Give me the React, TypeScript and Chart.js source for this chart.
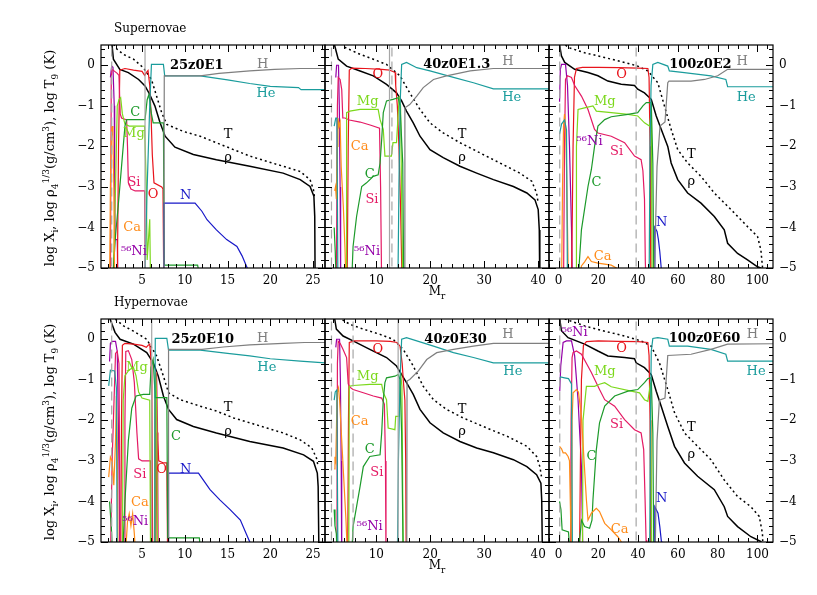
import React, { useEffect, useRef } from "react";
import { Chart, registerables } from "chart.js";
Chart.register(...registerables);

type Pt = [number, number];
type Lab = [string, number, number, string];

// ---------------- tick values ----------------
const Y_MAJOR = [-5, -4, -3, -2, -1, 0];
const X_MAJOR_25 = [5, 10, 15, 20, 25];
const X_MAJOR_40 = [10, 20, 30, 40];
const X_MAJOR_100 = [0, 20, 40, 60, 80, 100];

// ---------------- 25z0E1 (supernova) ----------------
const SN25_RHO: Pt[] = [[1.4,0.6],[1.48,0.52],[1.65,0.15],[2.4,-0.1],[3.4,-0.18],[4.6,-0.35],[5.35,-0.51],[5.9,-0.72],[6.5,-1.0],[7.1,-1.41],[7.7,-1.75],[8.85,-2.02],[11,-2.2],[13.7,-2.33],[17.6,-2.49],[21.5,-2.66],[23.5,-2.82],[24.65,-2.99],[25.1,-3.23],[25.2,-3.73],[25.25,-5.5]];
const SN25_T: Pt[] = [[1.7,0.52],[1.84,0.44],[2.8,0.27],[4.0,0.15],[5.15,-0.06],[6.1,-0.35],[6.7,-0.76],[7.3,-1.17],[7.9,-1.46],[9.8,-1.63],[11.8,-1.75],[13.7,-1.91],[15.7,-2.08],[17.6,-2.24],[19.6,-2.37],[21.5,-2.49],[23.5,-2.62],[24.65,-2.82],[25.05,-3.07],[25.2,-3.3]];
const SN25_H: Pt[] = [[7.55,-5.5],[7.6,-0.26],[11.8,-0.26],[14,-0.2],[17.6,-0.14],[20.5,-0.1],[23.5,-0.08],[26.4,-0.08]];
const SN25_HE: Pt[] = [[5.3,-5.5],[5.6,-3],[5.9,-1],[6.1,0.02],[7.5,0.02],[7.65,-0.26],[11.8,-0.26],[15,-0.36],[17.6,-0.45],[20,-0.52],[23.3,-0.55],[23.6,-0.6],[26.4,-0.6]];
const SN25_O: Pt[] = [[2.1,-5.5],[2.25,-2],[2.4,-0.12],[3,-0.08],[4,-0.12],[5,-0.15],[5.3,-0.25],[5.5,-0.18],[5.7,-0.13],[5.9,-0.5],[6.05,-1.2],[6.2,-2.2],[6.4,-2.9],[7.3,-3.0],[7.45,-3.05],[7.55,-5.5]];
const SN25_SI: Pt[] = [[1.3,-5.5],[1.4,-0.3],[1.5,-0.1],[1.8,-0.15],[2.1,-0.2],[2.3,-0.25],[2.45,-1.2],[2.6,-1.3],[3.2,-1.35],[3.3,-2.0],[3.4,-2.9],[3.7,-3.05],[4.2,-3.1],[5.3,-3.1],[5.38,-5.5]];
const SN25_C: Pt[] = [[1.5,-5.5],[1.9,-4.2],[2.2,-3.5],[2.6,-2.5],[3.0,-1.5],[3.2,-1.34],[5.35,-1.34],[5.6,-0.85],[5.8,-0.72],[6.1,-1.2],[6.3,-1.42],[7.5,-1.42],[7.6,-4.93],[11.5,-4.93],[12,-5.5]];
const SN25_MG: Pt[] = [[1.6,-5.5],[1.9,-3],[2.1,-1.0],[2.3,-0.85],[2.5,-0.8],[2.7,-1.2],[3.0,-1.45],[3.5,-1.5],[5.3,-1.5],[5.5,-3],[5.6,-4.8],[5.9,-3.8],[6.0,-5.5]];
const SN25_CA: Pt[] = [[1.2,-5.5],[1.3,-3],[1.4,-1.8],[1.5,-1.5],[1.6,-1.8],[1.7,-3],[1.8,-5.5]];
const SN25_NI: Pt[] = [[1.3,-0.3],[1.45,-0.02],[1.6,-0.05],[1.75,-1],[1.8,-3],[1.85,-4.3],[2.1,-4.3],[2.2,-5.5]];
const SN25_N: Pt[] = [[7.5,-5.5],[7.55,-3.4],[11.2,-3.4],[12.0,-3.6],[12.6,-3.81],[13.7,-4.06],[14.9,-4.3],[16.1,-4.47],[16.7,-4.7],[17.3,-5.0],[17.5,-5.5]];
const SN25_SOLID = [5.35];
const SN25_DASHED = [1.45];
const SN25_LABELS: Lab[] = [["25z0E1",11.4,0.0,"title"],["H",19.1,0.02,"H"],["He",19.5,-0.69,"He"],["T",15.05,-1.71,"T"],["ρ",15.05,-2.28,"rho"],["C",4.2,-1.16,"C"],["Mg",4.05,-1.68,"Mg"],["Si",4.05,-2.9,"Si"],["O",6.3,-3.19,"O"],["N",10.1,-3.22,"N"],["Ca",3.83,-4.01,"Ca"],["⁵⁶Ni",4.05,-4.6,"Ni"]];

// ---------------- 40z0E1.3 (supernova) ----------------
const SN40_RHO: Pt[] = [[2.2,0.6],[2.3,0.48],[2.95,0.15],[4.5,-0.02],[7.0,-0.14],[9.45,-0.26],[11.9,-0.47],[13.75,-0.68],[14.7,-0.88],[15.6,-1.13],[16.85,-1.42],[18.1,-1.75],[19.95,-2.08],[22.4,-2.28],[25.5,-2.49],[28.6,-2.66],[31.7,-2.82],[35.4,-2.99],[37.9,-3.15],[39.4,-3.32],[40.0,-3.56],[40.2,-4.06],[40.3,-5.5]];
const SN40_T: Pt[] = [[3.6,0.55],[4.2,0.44],[7.0,0.27],[9.45,0.15],[11.9,0.02],[14.4,-0.26],[16.2,-0.68],[18.1,-1.09],[19.95,-1.42],[22.4,-1.67],[25.5,-1.91],[29.2,-2.16],[32.9,-2.41],[36.6,-2.66],[38.8,-2.86],[39.7,-3.15],[40.0,-3.4]];
const SN40_H: Pt[] = [[15.25,-5.5],[15.3,-1.05],[16.2,-0.97],[17.5,-0.76],[18.7,-0.55],[20.6,-0.35],[23.0,-0.26],[27.4,-0.14],[31.7,-0.08],[42,-0.08]];
const SN40_HE: Pt[] = [[2.2,-1.5],[2.5,-1.3],[2.7,-1.3],[2.9,-5.5],[14.0,-5.5],[14.2,-3],[14.4,-1],[14.7,0.02],[15.6,0.07],[17.5,-0.06],[19.95,-0.14],[24.3,-0.3],[28.0,-0.43],[31.7,-0.58],[42,-0.58]];
const SN40_O: Pt[] = [[4.6,-5.5],[4.8,-2],[5.0,-0.12],[5.5,-0.07],[8,-0.08],[11,-0.1],[12.5,-0.12],[13.5,-0.18],[13.6,-0.5],[13.9,-1.0],[14.2,-2],[14.5,-3.5],[14.8,-5.5]];
const SN40_SI: Pt[] = [[2.6,-5.5],[2.8,-1],[2.95,-0.3],[3.3,-0.35],[3.6,-0.6],[3.8,-1.3],[4.2,-1.3],[5,-1.35],[7,-1.4],[9,-1.48],[10.6,-1.55],[10.8,-3],[11.0,-5.5]];
const SN40_C: Pt[] = [[2.2,-4.0],[2.4,-4.6],[2.6,-5.5],[5.4,-5.5],[5.7,-4.47],[6.35,-3.73],[7.3,-2.99],[8.2,-2.9],[9.45,-2.74],[10.35,-2.7],[10.7,-2.41],[11.0,-1.83],[11.3,-1.17],[11.9,-0.88],[13.1,-0.84],[14.05,-0.8],[14.4,-1.0],[14.9,-2.41],[15.1,-5.5]];
const SN40_MG: Pt[] = [[4.4,-5.5],[4.5,-1.17],[5.1,-1.13],[7.0,-1.09],[10.35,-1.09],[10.7,-1.34],[11.3,-1.58],[11.6,-2.24],[12.8,-2.24],[13.1,-1.91],[13.75,-1.91],[14.25,-0.76],[14.5,-1.0],[14.9,-5.5]];
const SN40_CA: Pt[] = [[2.3,-3.1],[2.45,-3.0],[2.6,-3.3],[2.75,-2],[2.9,-1.3],[3.1,-1.5],[3.3,-1.4],[3.5,-2.5],[3.9,-3.5],[4.2,-4.5],[4.4,-5.5]];
const SN40_NI: Pt[] = [[2.5,-0.3],[2.65,0.0],[3.0,0.0],[3.15,-1],[3.3,-3],[3.4,-5.5]];
const SN40_SOLID = [12.45];
const SN40_DASHED = [1.7, 12.9];
const SN40_LABELS: Lab[] = [["40z0E1.3",24.9,0.02,"title"],["H",34.4,0.1,"H"],["He",35.1,-0.79,"He"],["O",10.3,-0.22,"O"],["Mg",8.4,-0.89,"Mg"],["Ca",6.9,-2.0,"Ca"],["C",8.8,-2.7,"C"],["Si",9.2,-3.32,"Si"],["T",25.9,-1.71,"T"],["ρ",25.9,-2.28,"rho"],["⁵⁶Ni",8.3,-4.6,"Ni"]];

// ---------------- 100z0E2 (supernova) ----------------
const SN100_RHO: Pt[] = [[0.5,0.6],[0.6,0.48],[1.45,0.23],[3.1,0.07],[8.1,-0.1],[14.8,-0.18],[19.8,-0.26],[24.8,-0.39],[31.5,-0.47],[38.2,-0.5],[39.8,-0.59],[43.2,-0.68],[46.6,-0.84],[49.1,-1.25],[51.6,-1.58],[54.9,-2.0],[56.6,-2.41],[59.9,-2.82],[64.9,-3.15],[71.6,-3.4],[78.3,-3.73],[83.3,-4.06],[85.0,-4.39],[90.0,-4.64],[95.0,-4.8],[100.0,-4.97],[101.7,-5.0],[102,-5.5]];
const SN100_T: Pt[] = [[3.5,0.5],[4.8,0.44],[13.1,0.31],[23.2,0.19],[33.2,0.07],[39.8,-0.02],[44.9,-0.14],[49.9,-0.43],[53.2,-1.0],[56.6,-1.58],[59.9,-2.08],[64.9,-2.41],[71.6,-2.74],[78.3,-3.15],[86.7,-3.56],[95.0,-3.98],[100.0,-4.22],[101.7,-4.55],[102.5,-4.97],[102.7,-5.5]];
const SN100_H: Pt[] = [[48,-5.5],[49.5,-2.5],[51,-1.5],[53.5,-1.4],[54.9,-0.43],[55.5,-0.39],[66.6,-0.39],[73.4,-0.35],[80,-0.26],[85,-0.1],[108,-0.1]];
const SN100_HE: Pt[] = [[0.5,-1.7],[1.5,-1.45],[3,-1.35],[4,-1.6],[4.5,-5.5],[45.5,-5.5],[46,-2],[46.5,-0.5],[47.4,0.02],[49.9,0.07],[54.9,-0.02],[55.7,-0.14],[63.2,-0.18],[76.6,-0.26],[84.1,-0.35],[85.0,-0.53],[108,-0.53]];
const SN100_O: Pt[] = [[6.5,-5.5],[7.3,-2],[8.0,-0.3],[9.0,-0.08],[12,-0.05],[20,-0.05],[30,-0.06],[40,-0.07],[44.9,-0.08],[45.5,-0.3],[46.0,-2],[46.4,-5.5]];
const SN100_SI: Pt[] = [[2.5,-5.5],[3.0,-2],[3.5,-0.35],[4.5,-0.26],[6.5,-0.3],[8.1,-0.5],[11.5,-0.76],[14.8,-1.09],[18.1,-1.58],[19.8,-1.67],[26.5,-1.75],[33.2,-1.91],[38.2,-2.24],[41.5,-2.33],[42.4,-2.6],[43.2,-3.3],[43.6,-4.8],[44.0,-5.5]];
const SN100_C: Pt[] = [[9.6,-5.5],[11.5,-4.06],[14.8,-2.99],[16.5,-2.57],[18.1,-2.0],[19.8,-1.5],[23.2,-1.34],[26.5,-1.27],[34.9,-1.21],[39.8,-1.17],[42.4,-1.0],[44.1,-0.92],[46.6,-0.92],[47.4,-2.41],[47.9,-5.5]];
const SN100_MG: Pt[] = [[8.8,-5.5],[9.0,-2],[9.8,-1.09],[13.1,-1.05],[17.3,-1.0],[19.0,-1.13],[26.5,-1.17],[34.9,-1.21],[39.8,-1.25],[43.2,-1.42],[45.7,-1.5],[46.6,-1.17],[47.1,-5.5]];
const SN100_CA: Pt[] = [[1.5,-5.5],[2.0,-3],[2.5,-1.5],[3.0,-1.2],[3.5,-1.5],[4.0,-2.5],[4.5,-4],[5.0,-5.5],[10,-5.5],[11.5,-4.95],[13.1,-4.85],[14.8,-4.72],[16.5,-4.84],[19.8,-4.88],[26.5,-4.93],[29.8,-5.02],[31,-5.5]];
const SN100_NI: Pt[] = [[0.5,-0.9],[0.9,-0.1],[1.5,0.02],[3.5,0.02],[4.5,-0.5],[5.5,-2],[6.5,-4],[7.0,-5.5]];
const SN100_N: Pt[] = [[48.2,-5.5],[48.4,-4.0],[49.5,-4.1],[50.2,-4.3],[50.9,-4.6],[51.7,-5.05],[52,-5.5]];
const SN100_SOLID: number[] = [];
const SN100_DASHED = [0.6, 39.0];
const SN100_LABELS: Lab[] = [["100z0E2",71.3,0.02,"title"],["H",92.3,0.1,"H"],["He",94.3,-0.79,"He"],["O",31.7,-0.22,"O"],["Mg",23.2,-0.89,"Mg"],["⁵⁶Ni",15.6,-1.88,"Ni"],["Si",29.2,-2.13,"Si"],["C",19.1,-2.9,"C"],["T",66.8,-2.2,"T"],["ρ",66.8,-2.87,"rho"],["N",51.8,-3.89,"N"],["Ca",22.2,-4.73,"Ca"]];

// ---------------- 25z0E10 (hypernova) ----------------
const HN25_RHO: Pt[] = [[1.1,0.6],[1.26,0.5],[1.84,0.17],[2.43,0],[4.0,-0.12],[5.55,-0.33],[6.32,-0.58],[6.9,-0.91],[7.5,-1.4],[8.1,-1.73],[9.05,-1.98],[11,-2.15],[13.7,-2.31],[17.6,-2.52],[21.5,-2.68],[23.9,-2.85],[25.05,-3.01],[25.5,-3.3],[25.6,-3.63],[25.7,-5.5]];
const HN25_T: Pt[] = [[1.6,0.6],[1.84,0.5],[2.84,0.33],[4.0,0.2],[5.55,0],[6.7,-0.41],[7.5,-0.91],[8.1,-1.32],[9.45,-1.49],[11.8,-1.65],[13.7,-1.77],[15.7,-1.94],[17.6,-2.06],[19.6,-2.19],[21.5,-2.31],[23.5,-2.48],[24.85,-2.68],[25.4,-2.93],[25.6,-3.14]];
const HN25_H: Pt[] = [[8.05,-5.5],[8.1,-0.25],[12,-0.25],[14.5,-0.19],[17.6,-0.14],[21.5,-0.1],[24,-0.08],[26.4,-0.08]];
const HN25_HE: Pt[] = [[1.1,-1.15],[1.3,-0.76],[1.8,-0.78],[2.0,-1.2],[2.1,-5.5],[6.4,-5.5],[6.5,-2],[6.55,0.02],[7.9,0.02],[8.1,-0.27],[11.8,-0.27],[15,-0.35],[17.6,-0.41],[20,-0.48],[23.5,-0.54],[26.4,-0.58]];
const HN25_O: Pt[] = [[2.5,-5.5],[2.6,-2],[2.7,-0.15],[3.0,-0.1],[4.0,-0.12],[5.0,-0.15],[5.5,-0.2],[5.7,-0.15],[5.9,-0.12],[6.05,-0.5],[6.15,-1.5],[6.25,-5.5],[6.6,-5.5],[6.75,-2.3],[6.85,-2.5],[6.95,-3.0],[7.5,-3.05],[7.9,-3.05],[8.0,-5.5]];
const HN25_SI: Pt[] = [[1.3,-5.5],[1.5,-3],[1.9,-0.35],[2.1,-0.3],[2.3,-0.6],[2.45,-5.5],[2.9,-5.5],[3.0,-2],[3.1,-0.3],[3.4,-0.28],[3.8,-0.5],[4.1,-1.07],[4.4,-2.3],[4.6,-2.95],[5.0,-3.0],[6.0,-3.0],[6.1,-5.5],[6.5,-5.5],[6.6,-1.5],[6.7,-0.8],[6.8,-2],[6.9,-5.5]];
const HN25_C: Pt[] = [[1.2,-4.0],[1.4,-4.6],[1.6,-5.5],[2.7,-5.5],[3.0,-4],[3.4,-2.5],[3.8,-1.7],[4.3,-1.4],[5.15,-1.36],[5.9,-1.36],[6.05,-0.7],[6.3,-0.5],[6.55,-1.44],[7.9,-1.44],[8.0,-4.9],[11.7,-4.9],[12,-5.5]];
const HN25_MG: Pt[] = [[2.7,-5.5],[2.8,-1.5],[3.0,-0.9],[3.5,-0.75],[4.0,-0.7],[4.3,-0.9],[4.6,-1.3],[5.0,-1.45],[5.9,-1.5],[6.0,-5.5],[6.4,-5.5],[6.5,-1.5],[6.6,-0.8],[6.7,-1.5],[6.8,-5.5]];
const HN25_CA: Pt[] = [[1.1,-3.4],[1.3,-2.9],[1.5,-3.0],[1.7,-3.6],[1.9,-2.5],[2.0,-1.4],[2.1,-2.5],[2.2,-5.5],[3.0,-5.5],[3.3,-4.5],[3.5,-4.3],[3.7,-4.6],[3.9,-4.3],[4.1,-4.8],[4.3,-5.5]];
const HN25_NI: Pt[] = [[1.2,-0.55],[1.3,-0.1],[1.5,-0.05],[1.9,-0.05],[2.1,-0.3],[2.3,-3],[2.4,-5.5]];
const HN25_N: Pt[] = [[8.05,-5.5],[8.1,-3.3],[11.6,-3.3],[12.95,-3.71],[14.1,-3.96],[15.3,-4.2],[16.5,-4.46],[17.2,-4.8],[17.6,-5.0],[17.8,-5.5]];
const HN25_SOLID = [6.13];
const HN25_DASHED = [1.45];
const HN25_LABELS: Lab[] = [["25z0E10",12.1,0,"title"],["H",19.1,0.02,"H"],["He",19.6,-0.69,"He"],["T",15.05,-1.68,"T"],["ρ",15.05,-2.28,"rho"],["Mg",4.4,-0.69,"Mg"],["C",8.98,-2.4,"C"],["Si",4.75,-3.34,"Si"],["O",7.3,-3.22,"O"],["N",10.1,-3.22,"N"],["Ca",4.75,-4.03,"Ca"],["⁵⁶Ni",4.2,-4.5,"Ni"]];

// ---------------- 40z0E30 (hypernova) ----------------
const HN40_RHO: Pt[] = [[2.2,0.6],[2.3,0.5],[2.6,0.25],[3.85,0.08],[5.7,-0.04],[8.8,-0.25],[11.9,-0.45],[13.75,-0.66],[14.7,-0.87],[15.6,-1.07],[16.85,-1.36],[18.1,-1.73],[19.95,-2.06],[22.4,-2.31],[25.5,-2.52],[28.6,-2.68],[31.7,-2.8],[35.4,-2.97],[37.9,-3.14],[39.7,-3.34],[40.5,-3.55],[40.65,-3.96],[40.8,-5.5]];
const HN40_T: Pt[] = [[2.95,0.54],[5.1,0.37],[7.6,0.25],[10.7,0.12],[13.1,0],[15.0,-0.25],[16.85,-0.66],[18.7,-1.16],[20.6,-1.49],[23.0,-1.73],[26.1,-1.94],[30.5,-2.19],[34.2,-2.39],[37.9,-2.64],[39.7,-2.89],[40.3,-3.14],[40.6,-3.38]];
const HN40_H: Pt[] = [[15.65,-5.5],[15.7,-1.03],[16.2,-0.99],[17.8,-0.78],[19.35,-0.5],[21.2,-0.33],[24.3,-0.25],[28.0,-0.17],[31.7,-0.1],[42,-0.1]];
const HN40_HE: Pt[] = [[2.2,-1.5],[2.4,-1.3],[2.7,-1.25],[2.9,-5.5],[13.9,-5.5],[14.1,-3],[14.4,-1],[14.7,0],[15.6,0.04],[17.5,-0.04],[20.6,-0.17],[24.3,-0.33],[28.0,-0.45],[31.7,-0.58],[42,-0.58]];
const HN40_O: Pt[] = [[4.7,-5.5],[4.85,-2],[5.0,-0.08],[6,-0.04],[10,-0.04],[12.6,-0.05],[13.85,-0.08],[14.4,-0.17],[14.8,-0.6],[15.0,-1.0],[15.3,-1.5],[15.45,-3],[15.55,-5.5]];
const HN40_SI: Pt[] = [[2.7,-5.5],[2.8,-0.6],[2.95,-0.05],[3.3,-0.1],[3.85,-0.25],[4.5,-0.45],[4.8,-1.1],[5.1,-1.18],[5.7,-1.24],[7.6,-1.32],[9.45,-1.4],[11.0,-1.45],[11.5,-1.6],[11.7,-3],[11.8,-5.5]];
const HN40_C: Pt[] = [[2.2,-4.2],[2.35,-4.6],[2.6,-4.8],[2.8,-5.5],[5.4,-5.5],[5.7,-4.62],[6.35,-4.13],[7.0,-3.63],[7.6,-3.14],[8.8,-2.89],[10.7,-2.85],[11.0,-2.31],[11.3,-1.49],[11.6,-1.07],[11.9,-0.95],[13.45,-0.91],[14.05,-0.87],[14.4,-0.99],[14.7,-2.31],[15.0,-5.5]];
const HN40_MG: Pt[] = [[4.9,-5.5],[5.0,-1.16],[5.7,-1.14],[8.8,-1.11],[11.0,-1.11],[11.3,-1.32],[11.9,-1.49],[12.2,-2.19],[13.45,-2.23],[13.6,-1.9],[14.25,-1.9],[14.5,-0.82],[14.75,-1.16],[15.0,-5.5]];
const HN40_CA: Pt[] = [[2.2,-3.2],[2.35,-2.9],[2.5,-3.0],[2.65,-2.0],[2.8,-1.3],[3.0,-1.2],[3.2,-1.5],[3.6,-2.5],[4.0,-3.5],[4.4,-4.5],[4.7,-5.5]];
const HN40_NI: Pt[] = [[2.5,-0.2],[2.65,0.0],[3.2,0.0],[3.35,-1],[3.5,-3],[3.6,-5.5]];
const HN40_SOLID = [14.05];
const HN40_DASHED = [1.7, 5.7];
const HN40_LABELS: Lab[] = [["40z0E30",24.7,0,"title"],["H",34.4,0.12,"H"],["He",35.3,-0.79,"He"],["O",10.3,-0.25,"O"],["Mg",8.4,-0.92,"Mg"],["Ca",6.9,-2.03,"Ca"],["C",8.8,-2.72,"C"],["Si",10.1,-3.29,"Si"],["T",25.9,-1.73,"T"],["ρ",25.9,-2.28,"rho"],["⁵⁶Ni",8.8,-4.63,"Ni"]];

// ---------------- 100z0E60 (hypernova) ----------------
const HN100_RHO: Pt[] = [[0.5,0.6],[0.6,0.5],[1.45,0.21],[4.8,0.04],[13.1,-0.12],[19.8,-0.29],[24.8,-0.41],[33.2,-0.45],[38.2,-0.48],[39.0,-0.58],[43.2,-0.7],[46.6,-0.87],[49.1,-1.28],[51.6,-1.65],[54.9,-2.15],[58.3,-2.64],[63.3,-3.05],[69.9,-3.38],[78.3,-3.71],[83.3,-4.13],[85.0,-4.37],[90.0,-4.62],[96.7,-4.87],[101.7,-4.99],[102,-5.5]];
const HN100_T: Pt[] = [[3.1,0.5],[13.1,0.33],[23.2,0.2],[33.2,0.08],[41.5,-0.04],[46.6,-0.17],[50.7,-0.58],[54.9,-1.24],[58.3,-1.81],[63.3,-2.31],[69.9,-2.64],[76.6,-2.97],[83.3,-3.47],[90.0,-3.88],[96.7,-4.13],[100.9,-4.37],[102.5,-4.79],[103,-5.5]];
const HN100_H: Pt[] = [[48.5,-5.5],[49.5,-2.5],[50.7,-1.5],[53.5,-1.45],[54.9,-0.4],[66.6,-0.37],[76.6,-0.25],[85,-0.12],[108,-0.11]];
const HN100_HE: Pt[] = [[0.5,-1.0],[1,-0.93],[3,-0.95],[5,-0.97],[6.5,-1.1],[7,-5.5],[45.8,-5.5],[46.2,-2],[46.6,-0.3],[47.4,0.02],[49.9,0.04],[54.9,0],[55.7,-0.17],[64.9,-0.17],[76.6,-0.25],[84.1,-0.37],[85,-0.54],[108,-0.54]];
const HN100_O: Pt[] = [[10.5,-5.5],[11,-3],[11.5,-1],[12.5,-0.15],[14,-0.06],[20,-0.04],[30,-0.05],[40,-0.06],[44.9,-0.08],[45.5,-0.4],[46,-2],[46.4,-5.5]];
const HN100_SI: Pt[] = [[6.0,-5.5],[6.3,-2],[6.8,-0.45],[7.3,-0.33],[9.0,-0.29],[11.5,-0.37],[16.5,-0.82],[20.6,-1.24],[23.2,-1.49],[28.2,-1.65],[33.2,-1.98],[38.2,-2.23],[41.5,-2.31],[42.8,-2.72],[43.5,-3.96],[44,-4.95],[44.3,-5.5]];
const HN100_C: Pt[] = [[0.5,-4.0],[1.2,-4.2],[1.8,-4.7],[5,-4.75],[6,-5.5],[10.3,-5.5],[10.6,-4.95],[11.5,-4.46],[13.1,-4.62],[15.6,-4.66],[16.8,-4.46],[17.3,-3.96],[19.0,-2.72],[20.6,-2.06],[23.2,-1.65],[28.2,-1.4],[34.9,-1.28],[39.8,-1.24],[43.2,-1.07],[44.9,-0.97],[46.6,-0.95],[47.4,-2.31],[47.9,-5.5]];
const HN100_MG: Pt[] = [[12,-5.5],[12.3,-2],[14.0,-1.16],[18.1,-1.16],[20.6,-1.11],[23.2,-1.07],[26.5,-1.17],[36.5,-1.28],[40.7,-1.32],[43.2,-1.49],[44.9,-1.53],[46.2,-1.07],[46.9,-5.5]];
const HN100_CA: Pt[] = [[0.5,-2.64],[1.5,-2.7],[2.3,-2.8],[3.5,-2.8],[4.8,-2.89],[5.5,-3.0],[6.5,-5.5],[6.8,-2],[7.3,-1.32],[9.0,-1.24],[10.0,-1.3],[11.5,-1.9],[14.0,-3.96],[14.8,-4.46],[16.5,-4.29],[18.1,-4.21],[19.0,-4.17],[20.6,-4.25],[23.2,-4.54],[26.5,-4.7],[29.8,-4.87],[31.5,-4.99],[32,-5.5]];
const HN100_NI: Pt[] = [[0.6,-1.28],[1.1,-0.66],[2.3,-0.08],[4.0,-0.04],[6.5,-0.04],[8.1,-0.41],[9.8,-1.49],[11.5,-3.14],[12.3,-5.5]];
const HN100_N: Pt[] = [[48.2,-5.5],[48.4,-4.13],[50,-4.29],[50.9,-4.62],[51.7,-4.99],[52,-5.5]];
const HN100_SOLID: number[] = [];
const HN100_DASHED = [0.6, 39.0];
const HN100_LABELS: Lab[] = [["100z0E60",73.4,0.02,"title"],["H",97.4,0.12,"H"],["He",99.3,-0.79,"He"],["⁵⁶Ni",8.1,0.17,"Ni"],["O",31.7,-0.22,"O"],["Mg",23.2,-0.79,"Mg"],["Si",29.2,-2.1,"Si"],["C",16.6,-2.89,"C"],["T",66.8,-2.18,"T"],["ρ",66.8,-2.85,"rho"],["N",51.8,-3.92,"N"],["Ca",30.7,-4.7,"Ca"]];

// ---------------- styling ----------------
const COLORS: Record<string, string> = {
  H: "#7f7f7f", He: "#1a9c9c", C: "#1c9a2a", N: "#1818c8", O: "#e8141c",
  Mg: "#7cd81c", Si: "#e41a64", Ca: "#ff8c1a", Ni: "#9400a8", rho: "#000000", T: "#000000", title: "#000000",
};
const W = 817, HGT = 595;
const FONT = "'DejaVu Serif', serif";

type Panel = {
  rect: [number, number, number, number];
  xMin: number; xMax: number; xMajor: number[]; xMinor: number;
  ySide: "left" | "right" | "none";
  series: Record<string, Pt[]>;
  solid: number[]; dashed: number[]; labels: Lab[];
};

const ROW_TOP = [45, 319];
const ROW_BOT = [268, 542];
const COL = [101, 325, 549, 773];

const PANELS: Panel[] = [
  { rect: [COL[0], ROW_TOP[0], COL[1], ROW_BOT[0]], xMin: 0.2, xMax: 26.4, xMajor: X_MAJOR_25, xMinor: 1, ySide: "left",
    series: { rho: SN25_RHO, T: SN25_T, H: SN25_H, He: SN25_HE, C: SN25_C, N: SN25_N, O: SN25_O, Mg: SN25_MG, Si: SN25_SI, Ca: SN25_CA, Ni: SN25_NI },
    solid: SN25_SOLID, dashed: SN25_DASHED, labels: SN25_LABELS },
  { rect: [COL[1], ROW_TOP[0], COL[2], ROW_BOT[0]], xMin: 0.5, xMax: 42, xMajor: X_MAJOR_40, xMinor: 2, ySide: "none",
    series: { rho: SN40_RHO, T: SN40_T, H: SN40_H, He: SN40_HE, C: SN40_C, O: SN40_O, Mg: SN40_MG, Si: SN40_SI, Ca: SN40_CA, Ni: SN40_NI },
    solid: SN40_SOLID, dashed: SN40_DASHED, labels: SN40_LABELS },
  { rect: [COL[2], ROW_TOP[0], COL[3], ROW_BOT[0]], xMin: -4.8, xMax: 107.8, xMajor: X_MAJOR_100, xMinor: 5, ySide: "right",
    series: { rho: SN100_RHO, T: SN100_T, H: SN100_H, He: SN100_HE, C: SN100_C, N: SN100_N, O: SN100_O, Mg: SN100_MG, Si: SN100_SI, Ca: SN100_CA, Ni: SN100_NI },
    solid: SN100_SOLID, dashed: SN100_DASHED, labels: SN100_LABELS },
  { rect: [COL[0], ROW_TOP[1], COL[1], ROW_BOT[1]], xMin: 0.2, xMax: 26.4, xMajor: X_MAJOR_25, xMinor: 1, ySide: "left",
    series: { rho: HN25_RHO, T: HN25_T, H: HN25_H, He: HN25_HE, C: HN25_C, N: HN25_N, O: HN25_O, Mg: HN25_MG, Si: HN25_SI, Ca: HN25_CA, Ni: HN25_NI },
    solid: HN25_SOLID, dashed: HN25_DASHED, labels: HN25_LABELS },
  { rect: [COL[1], ROW_TOP[1], COL[2], ROW_BOT[1]], xMin: 0.5, xMax: 42, xMajor: X_MAJOR_40, xMinor: 2, ySide: "none",
    series: { rho: HN40_RHO, T: HN40_T, H: HN40_H, He: HN40_HE, C: HN40_C, O: HN40_O, Mg: HN40_MG, Si: HN40_SI, Ca: HN40_CA, Ni: HN40_NI },
    solid: HN40_SOLID, dashed: HN40_DASHED, labels: HN40_LABELS },
  { rect: [COL[2], ROW_TOP[1], COL[3], ROW_BOT[1]], xMin: -4.8, xMax: 107.8, xMajor: X_MAJOR_100, xMinor: 5, ySide: "right",
    series: { rho: HN100_RHO, T: HN100_T, H: HN100_H, He: HN100_HE, C: HN100_C, N: HN100_N, O: HN100_O, Mg: HN100_MG, Si: HN100_SI, Ca: HN100_CA, Ni: HN100_NI },
    solid: HN100_SOLID, dashed: HN100_DASHED, labels: HN100_LABELS },
];

const Y_AXIS_W = 32;
const X_AXIS_H = 22;

function fmt(v: number) {
  return v < 0 ? "\u2212" + Math.abs(v) : String(v);
}

function framePlugin(p: Panel) {
  return {
    id: "frameTicks",
    afterDatasetsDraw(chart: any) {
      const { ctx, chartArea } = chart;
      const { left, right, top, bottom } = chartArea;
      const xs = chart.scales.x, ys = chart.scales.y;
      ctx.save();
      ctx.strokeStyle = "#000";
      ctx.lineWidth = 1;
      ctx.beginPath();
      const xStart = Math.ceil(p.xMin / p.xMinor) * p.xMinor;
      for (let v = xStart; v <= p.xMax + 1e-9; v += p.xMinor) {
        const isMajor = p.xMajor.some((m) => Math.abs(m - v) < 1e-6);
        const len = isMajor ? 7 : 4;
        const px = Math.round(xs.getPixelForValue(v)) + 0.5;
        ctx.moveTo(px, bottom); ctx.lineTo(px, bottom - len);
        ctx.moveTo(px, top); ctx.lineTo(px, top + len);
      }
      for (let v = -5; v <= 0.5 + 1e-9; v += 0.2) {
        const vv = Math.round(v * 10) / 10;
        const isMajor = Math.abs(vv - Math.round(vv)) < 1e-6;
        const len = isMajor ? 7 : 4;
        const py = Math.round(ys.getPixelForValue(vv)) + 0.5;
        ctx.moveTo(left, py); ctx.lineTo(left + len, py);
        ctx.moveTo(right, py); ctx.lineTo(right - len, py);
      }
      ctx.stroke();
      ctx.lineWidth = 1.2;
      ctx.strokeRect(left, top, right - left, bottom - top);
      ctx.textAlign = "center";
      ctx.textBaseline = "middle";
      for (const [text, lx, ly, kind] of p.labels) {
        ctx.fillStyle = COLORS[kind];
        ctx.font = kind === "title" ? `bold 13px ${FONT}` : `13px ${FONT}`;
        ctx.fillText(text, xs.getPixelForValue(lx), ys.getPixelForValue(ly));
      }
      ctx.restore();
    },
  };
}

function buildConfig(p: Panel): any {
  const [L, T, R, B] = p.rect;
  const datasets: any[] = [];
  for (const v of p.solid) {
    datasets.push({ data: [{ x: v, y: -6 }, { x: v, y: 1 }], borderColor: "#a6a6a6", borderWidth: 1.2, pointRadius: 0, borderDash: [] });
  }
  for (const v of p.dashed) {
    datasets.push({ data: [{ x: v, y: -6 }, { x: v, y: 1 }], borderColor: "#a6a6a6", borderWidth: 1.2, pointRadius: 0, borderDash: [9, 5] });
  }
  const order = ["H", "He", "N", "Ca", "C", "Mg", "Si", "O", "Ni", "T", "rho"];
  for (const k of order) {
    const d = p.series[k];
    if (!d) continue;
    datasets.push({
      label: k,
      data: d.map(([x, y]) => ({ x, y })),
      borderColor: COLORS[k],
      borderWidth: k === "rho" || k === "T" ? 1.5 : 1.2,
      borderDash: k === "T" ? [2, 3] : [],
      pointRadius: 0,
      tension: 0,
      fill: false,
    });
  }
  const yPos = p.ySide === "right" ? "right" : "left";
  const yW = p.ySide === "none" ? 0 : Y_AXIS_W;
  return {
    type: "line",
    data: { datasets },
    plugins: [framePlugin(p)],
    options: {
      responsive: false,
      maintainAspectRatio: false,
      devicePixelRatio: 1,
      animation: false,
      events: [],
      layout: {
        padding: {
          left: p.ySide === "left" ? L - yW : L,
          right: p.ySide === "right" ? W - R - yW : W - R,
          top: T,
          bottom: HGT - B - X_AXIS_H,
        },
      },
      plugins: { legend: { display: false }, tooltip: { enabled: false }, title: { display: false } },
      scales: {
        x: {
          type: "linear", position: "bottom", min: p.xMin, max: p.xMax,
          grid: { display: false, drawTicks: false }, border: { display: false },
          ticks: { color: "#000", font: { family: FONT, size: 12 }, padding: 6, maxRotation: 0, autoSkip: false, callback: (v: number) => fmt(v) },
          afterBuildTicks: (s: any) => { s.ticks = p.xMajor.map((v) => ({ value: v })); },
          afterFit: (s: any) => { s.height = X_AXIS_H; },
        },
        y: {
          type: "linear", position: yPos, min: -5, max: 0.5, display: p.ySide !== "none",
          grid: { display: false, drawTicks: false }, border: { display: false },
          ticks: { color: "#000", font: { family: FONT, size: 12 }, padding: 6, autoSkip: false, callback: (v: number) => fmt(v) },
          afterBuildTicks: (s: any) => { s.ticks = Y_MAJOR.map((v) => ({ value: v })); },
          afterFit: (s: any) => { s.width = yW; },
        },
      },
    },
  };
}

const subSt: React.CSSProperties = { fontSize: 9 };
const yTitle = (
  <>
    log X<sub style={subSt}>i</sub>, log ρ<sub style={subSt}>4</sub>
    <sup style={subSt}>1/3</sup>(g/cm<sup style={subSt}>3</sup>), log T<sub style={subSt}>9</sub> (K)
  </>
);

export default function App() {
  const refs = useRef<(HTMLCanvasElement | null)[]>([]);
  useEffect(() => {
    const charts = PANELS.map((p, i) => new Chart(refs.current[i] as HTMLCanvasElement, buildConfig(p)));
    return () => charts.forEach((c) => c.destroy());
  }, []);
  const textBase: React.CSSProperties = { position: "absolute", fontFamily: FONT, fontSize: 12, color: "#000", whiteSpace: "nowrap", lineHeight: 1 };
  return (
    <div style={{ position: "absolute", left: 0, top: 0, width: W, height: HGT, background: "#fff", overflow: "hidden" }}>
      {PANELS.map((_, i) => (
        <canvas key={i} ref={(el) => { refs.current[i] = el; }} width={W} height={HGT}
          style={{ position: "absolute", left: 0, top: 0, width: W, height: HGT }} />
      ))}
      <div style={{ ...textBase, left: 114, top: 22 }}>Supernovae</div>
      <div style={{ ...textBase, left: 114, top: 296 }}>Hypernovae</div>
      <div style={{ ...textBase, left: 437, top: 293, transform: "translate(-50%, -50%)" }}>M<sub style={subSt}>r</sub></div>
      <div style={{ ...textBase, left: 437, top: 567, transform: "translate(-50%, -50%)" }}>M<sub style={subSt}>r</sub></div>
      <div style={{ ...textBase, fontSize: 13, left: 51, top: 158, transform: "translate(-50%, -50%) rotate(-90deg)" }}>{yTitle}</div>
      <div style={{ ...textBase, fontSize: 13, left: 51, top: 432, transform: "translate(-50%, -50%) rotate(-90deg)" }}>{yTitle}</div>
    </div>
  );
}
